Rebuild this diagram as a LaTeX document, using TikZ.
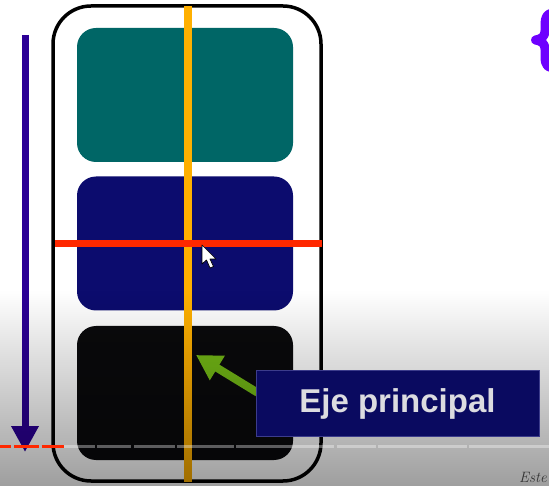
\documentclass[tikz,border=0pt]{standalone}
\usepackage{fontspec}
\newfontfamily\labfont{Liberation Sans}
\usetikzlibrary{arrows.meta,calc}
\definecolor{tealbox}{RGB}{0,102,102}
\definecolor{bluebox}{RGB}{12,12,110}
\definecolor{blackbox}{RGB}{10,10,12}
\definecolor{axisorange}{RGB}{255,176,0}
\definecolor{axisred}{RGB}{255,40,0}
\definecolor{arrowpurple}{RGB}{44,0,150}
\definecolor{bracepurple}{RGB}{110,0,255}
\definecolor{labelblue}{RGB}{10,10,96}
\definecolor{labelborder}{RGB}{60,60,140}
\definecolor{labeltext}{RGB}{250,250,255}
\definecolor{arrowgreen}{RGB}{116,186,22}
\begin{document}
\begin{tikzpicture}[x=1pt,y=-1pt,
  card/.style={rounded corners=19pt, inner sep=0pt, minimum width=216pt, minimum height=134pt},
  frame/.style={draw=black, line width=3.5pt, rounded corners=38pt, inner sep=0pt, minimum width=268pt, minimum height=475pt},
  axisline/.style={line width=8pt},
  bigarrow/.style={line width=7pt, -{Triangle[length=26pt,width=26pt]}},
  labelbox/.style={fill=labelblue, draw=labelborder, line width=0.8pt, inner sep=0pt, minimum width=283pt, minimum height=66pt, text=labeltext, font=\labfont\bfseries\fontsize{33}{33}\selectfont}
]
\useasboundingbox (0,0) rectangle (549,486);
\fill[white] (0,0) rectangle (549,486);

% cards
\node[card, fill=tealbox] (top) at (185,95) {};
\node[card, fill=bluebox] (mid) at (185,243.5) {};
\node[card, fill=blackbox] (bot) at (185,393) {};
% outer frame
\node[frame] (frame) at (187,243.5) {};

% axes
\coordinate (ax1) at (188,6);
\coordinate (ax2) at (188,482);
\coordinate (rx1) at (55,244);
\coordinate (rx2) at (322,244);
\draw[axisorange, axisline] (ax1) -- (ax2);
\draw[axisred, line width=7pt] (rx1) -- (rx2);

% cursor
\filldraw[fill=white, draw=black, line width=0.7pt, line join=round]
  (202,245) -- (202,264) -- (206.5,260) -- (210,268) -- (213.5,266.5) -- (210,259) -- (216,259) -- cycle;

% purple arrow
\coordinate (pa1) at (25,35);
\coordinate (pa2) at (25,452);
\draw[arrowpurple, bigarrow] (pa1) -- (pa2);

% brace
\draw[bracepurple, line width=9pt, line join=round, line cap=round]
  (558,12.5) .. controls (547,12.5) and (545,16) .. (545,26) -- (545,31)
  .. controls (545,36) and (542,39) .. (535.5,40)
  .. controls (542,41) and (545,44) .. (545,49) -- (545,56)
  .. controls (545,66) and (547,68) .. (558,68);

% label and green arrow
\node[labelbox] (lab) at (397.5,403.7) {};
\coordinate (gtip) at (196,355);
\draw[arrowgreen, line width=8pt, -{Triangle[length=25pt,width=27pt]}] ($(lab.west)+(2,-11)$) -- (gtip);

% bottom vignette
\begin{scope}[blend mode=multiply]
  \shade[top color=white, middle color=black!11, bottom color=black!38] (0,290) rectangle (549,486.5);
\end{scope}

\node[labelbox, text=labeltext!88!black] (lab2) at (397.5,403.7) {Eje principal};

% text bottom right
\node[anchor=base east, text=black!80, font=\itshape\fontsize{15}{15}\selectfont, inner sep=1pt] (este) at (548,482) {Este};

% dashed lines
\coordinate (d0) at (0,446.5);
\coordinate (d1) at (64,446.5);
\coordinate (d2) at (549,446.5);
\draw[white, opacity=0.35, line width=2.5pt,
  dash pattern=on 30.5pt off 2.5pt on 34pt off 3pt on 41pt off 2pt on 57pt off 2pt on 98pt off 3pt on 39pt off 2pt on 89pt off 2pt on 80pt off 2pt] (d1) -- (d2);
\draw[axisred, line width=3pt, dash pattern=on 10.5pt off 3.5pt on 24.5pt off 3pt on 23pt off 2pt] (d0) -- (d1);
\end{tikzpicture}
\end{document}
